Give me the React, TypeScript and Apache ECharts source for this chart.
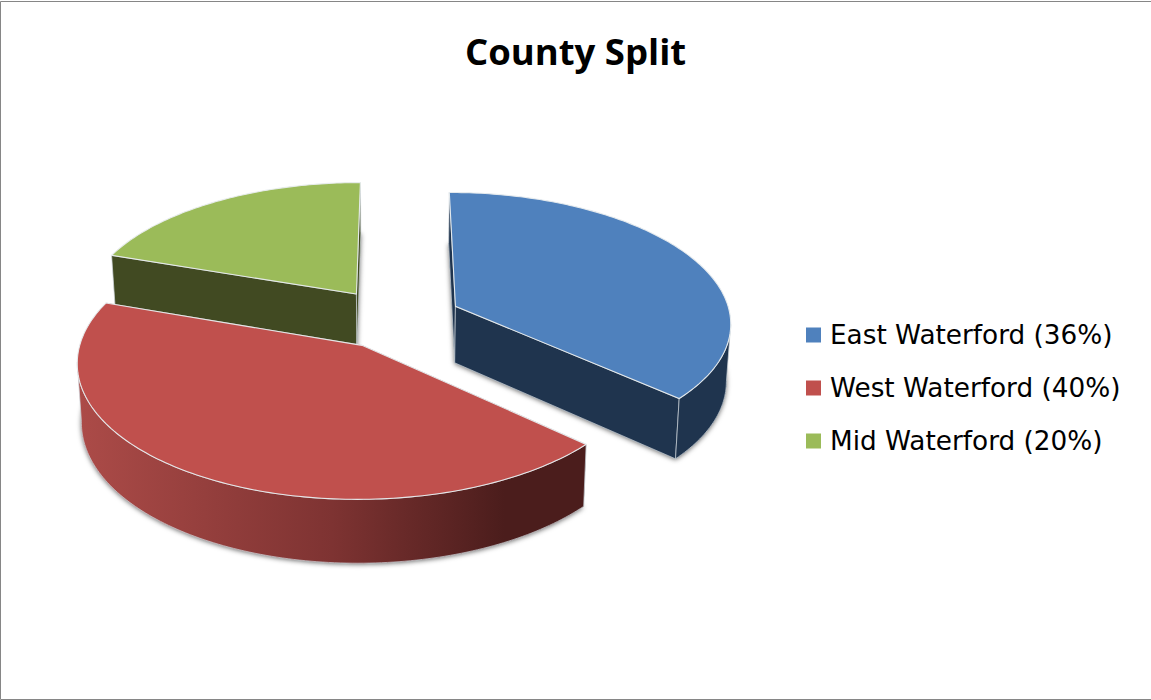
import React, { useEffect, useRef } from "react";
import * as echarts from "echarts";

// County shares, in the order the slices run clockwise from twelve o'clock.
const counties = ["East Waterford", "West Waterford", "Mid Waterford"];
const shares = [36, 40, 20];
const topColours = ["#4F81BD", "#C0504D", "#9BBB59"];
const wallColours = ["#1F344E", "#4B1D1C", "#414A22"];
const paintOrder = [2, 3, 1]; // West sits in front of the other two
const chartTitle = "County Split";

const TITLE_FONT = "'Comic Sans MS', 'Open Sans', sans-serif";
const LEGEND_FONT = "'Comic Sans MS', 'DejaVu Sans', sans-serif";
const WIDTH = 1151;
const HEIGHT = 700;

// Perspective disc: the pie plane is projected onto the page with a vanishing point behind it.
const CX = 395.5;
const CY = 318;
const SCALE_X = 275.5;
const SCALE_Y = 129.5;
const PERSPECTIVE = 0.115;
const EXPLODE = 0.238;
const DEPTH = 57;
// The camera is yawed a little, which slides points along the rim without leaving it.
const YAW = -4;
const total = shares.reduce((a, b) => a + b, 0);

const toRad = (deg: number) => (deg * Math.PI) / 180;
const viewAngle = (deg: number) => toRad(deg + YAW * Math.sin(toRad(deg)));

function project(u: number, v: number, lower: boolean) {
  const w = 1 - PERSPECTIVE * v;
  const x = CX + (SCALE_X * u) / w;
  const y = CY + (SCALE_Y * v) / w;
  if (!lower) return [x, y];
  return [CX + (x - CX) * 0.987, y + DEPTH * (1 + 0.1 * v)];
}

function sliceShapes(index: number, value: number) {
  const before = shares.slice(0, index).reduce((a, b) => a + b, 0);
  const start = (before / total) * 360;
  const end = start + (value / total) * 360;
  const mid = toRad((start + end) / 2);
  const ou = EXPLODE * Math.sin(mid);
  const ov = -EXPLODE * Math.cos(mid);
  const rimTop: number[][] = [];
  const rimBottom: number[][] = [];
  const steps = Math.ceil(end - start);
  for (let i = 0; i <= steps; i++) {
    const a = viewAngle(start + ((end - start) * i) / steps);
    const u = ou + Math.sin(a);
    const v = ov - Math.cos(a);
    rimTop.push(project(u, v, false));
    rimBottom.push(project(u, v, true));
  }
  // Only the stretch of rim running right to left faces the viewer.
  const frontTop: number[][] = [];
  const frontBottom: number[][] = [];
  for (let i = 0; i < rimTop.length; i++) {
    const leftward =
      (i < rimTop.length - 1 && rimTop[i + 1][0] < rimTop[i][0]) ||
      (i > 0 && rimTop[i][0] < rimTop[i - 1][0]);
    if (leftward) {
      frontTop.push(rimTop[i]);
      frontBottom.push(rimBottom[i]);
    }
  }
  const apexTop = project(ou, ov, false);
  const apexBottom = project(ou, ov, true);
  return { rimTop, rimBottom, frontTop, frontBottom, apexTop, apexBottom };
}

function wallFill(index: number) {
  if (index !== 1) return wallColours[index];
  return new echarts.graphic.LinearGradient(0, 0, 1, 0, [
    { offset: 0, color: "#AC4B48" },
    { offset: 0.5, color: "#7E3332" },
    { offset: 0.84, color: wallColours[1] },
    { offset: 1, color: wallColours[1] },
  ]);
}

function sliceRenderer(index: number) {
  return (_params: any, api: any) => {
    const { rimTop, rimBottom, frontTop, frontBottom, apexTop, apexBottom } = sliceShapes(
      index,
      api.value(0)
    );
    const fill = wallFill(index);
    const last = rimTop.length - 1;
    const edge = "rgba(205,212,218,0.9)";
    const children: any[] = [
      {
        type: "polygon",
        shape: { points: [apexBottom, ...rimBottom] },
        style: {
          fill,
          shadowBlur: 5,
          shadowColor: "rgba(0,0,0,0.6)",
          shadowOffsetX: 0,
          shadowOffsetY: 1,
        },
      },
      {
        type: "polygon",
        shape: { points: [apexTop, rimTop[0], rimBottom[0], apexBottom] },
        style: { fill: wallColours[index], stroke: edge, lineWidth: 0.8 },
      },
      {
        type: "polygon",
        shape: { points: [apexTop, rimTop[last], rimBottom[last], apexBottom] },
        style: { fill: wallColours[index], stroke: edge, lineWidth: 0.8 },
      },
    ];
    if (frontTop.length > 1) {
      children.push({
        type: "polygon",
        shape: { points: [...frontTop, ...frontBottom.slice().reverse()] },
        style: { fill, stroke: edge, lineWidth: 0.8 },
      });
    }
    children.push({
      type: "polygon",
      shape: { points: [apexTop, ...rimTop] },
      style: { fill: topColours[index], stroke: "rgba(232,236,238,0.95)", lineWidth: 1.1 },
    });
    return { type: "group", children };
  };
}

const legendNames = counties.map((name, i) => `${name} (${shares[i]}%)`);

export default function App() {
  const ref = useRef<HTMLDivElement>(null);
  useEffect(() => {
    document.body.style.margin = "0";
    const chart = echarts.init(ref.current!, null, { renderer: "svg" });
    chart.setOption({
      animation: false,
      backgroundColor: "#ffffff",
      title: {
        text: chartTitle,
        left: "center",
        top: 27,
        textStyle: { fontFamily: TITLE_FONT, fontSize: 36.5, fontWeight: "bold", color: "#000" },
      },
      legend: {
        orient: "vertical",
        left: 806,
        top: 322,
        padding: 0,
        icon: "rect",
        itemWidth: 15,
        itemHeight: 15,
        itemGap: 27,
        data: legendNames,
        textStyle: { fontFamily: LEGEND_FONT, fontSize: 26.3, color: "#000", padding: [0, 0, 0, 4] },
      },
      graphic: [
        {
          type: "rect",
          silent: true,
          shape: { x: 0.5, y: 1.5, width: WIDTH + 4, height: HEIGHT - 2 },
          style: { fill: "none", stroke: "#868686", lineWidth: 1 },
        },
      ],
      series: shares.map((value, i) => ({
        type: "custom",
        name: legendNames[i],
        coordinateSystem: "none",
        z: paintOrder[i],
        itemStyle: { color: topColours[i] },
        renderItem: sliceRenderer(i),
        data: [[value]],
      })),
    });
    return () => chart.dispose();
  }, []);
  return <div ref={ref} style={{ width: WIDTH, height: HEIGHT }} />;
}
